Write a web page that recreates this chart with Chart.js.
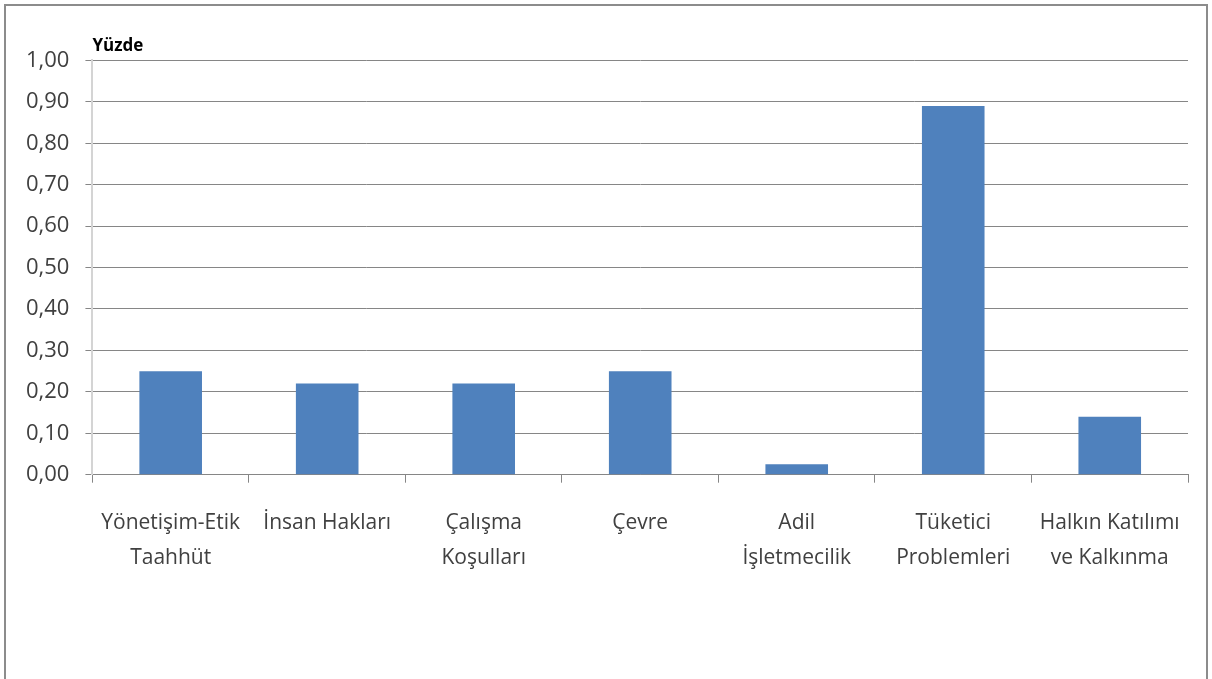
<!DOCTYPE html>
<html lang="tr">
<head>
<meta charset="utf-8">
<script src="https://cdn.jsdelivr.net/npm/chart.js@4.4.0/dist/chart.umd.min.js"></script>
<style>
  html, body { margin: 0; padding: 0; background: #ffffff; overflow: hidden; }
  #frame {
    position: absolute;
    left: 4px;
    top: 4px;
    width: 1204px;
    height: 720px;
    border: 2px solid #8c8c8c;
    box-sizing: border-box;
    background: #ffffff;
  }
  #wrap { position: absolute; left: 0; top: 0; width: 1200px; height: 592px; }
</style>
</head>
<body>
<div id="frame"><div id="wrap"><canvas id="barChart"></canvas></div></div>
<script>
const categories = [
  ['Yönetişim-Etik', 'Taahhüt'],
  'İnsan Hakları',
  ['Çalışma', 'Koşulları'],
  'Çevre',
  ['Adil', 'İşletmecilik'],
  ['Tüketici', 'Problemleri'],
  ['Halkın Katılımı', 've Kalkınma'],
];
const values = [0.25, 0.22, 0.22, 0.25, 0.025, 0.89, 0.14];
const yTicks = [0, 0.1, 0.2, 0.3, 0.4, 0.5, 0.6, 0.7, 0.8, 0.9, 1.0];

const ctx = document.getElementById('barChart').getContext('2d');
const fontFamily = "'Open Sans', 'DejaVu Sans', sans-serif";

new Chart(ctx, {
  type: 'bar',
  data: {
    labels: categories,
    datasets: [
      {
        label: 'Yüzde',
        data: values,
        backgroundColor: '#4f81bd',
        borderWidth: 0,
        barPercentage: 0.4,
        categoryPercentage: 1.0,
      },
    ],
  },
  options: {
    responsive: true,
    maintainAspectRatio: false,
    animation: false,
    layout: {
      padding: { left: 4, right: 18, top: 30, bottom: 0 },
    },
    plugins: {
      legend: { display: false },
      tooltip: { enabled: false },
      title: {
        display: true,
        text: 'Yüzde',
        align: 'start',
        fullSize: false,
        color: '#000000',
        font: { family: fontFamily, size: 17, weight: 'bold' },
        padding: { top: 0, bottom: 4 },
      },
    },
    scales: {
      x: {
        border: { display: true, color: '#868686', width: 1 },
        grid: {
          offset: true,
          drawOnChartArea: false,
          drawTicks: true,
          tickLength: 8,
          color: '#868686',
        },
        ticks: {
          color: '#404040',
          padding: 23,
          maxRotation: 0,
          autoSkip: false,
          font: { family: fontFamily, size: 21, lineHeight: 1.65 },
        },
      },
      y: {
        min: 0,
        max: 1,
        afterBuildTicks: (axis) => {
          axis.ticks = yTicks.map((v) => ({ value: v }));
        },
        border: { display: true, color: '#d4d4d4', width: 2 },
        grid: {
          color: '#868686',
          lineWidth: 1,
          drawTicks: true,
          tickLength: 7,
        },
        ticks: {
          color: '#404040',
          padding: 16,
          font: { family: fontFamily, size: 22 },
          callback: (value) => value.toFixed(2).replace('.', ','),
        },
      },
    },
  },
});
</script>
</body>
</html>
